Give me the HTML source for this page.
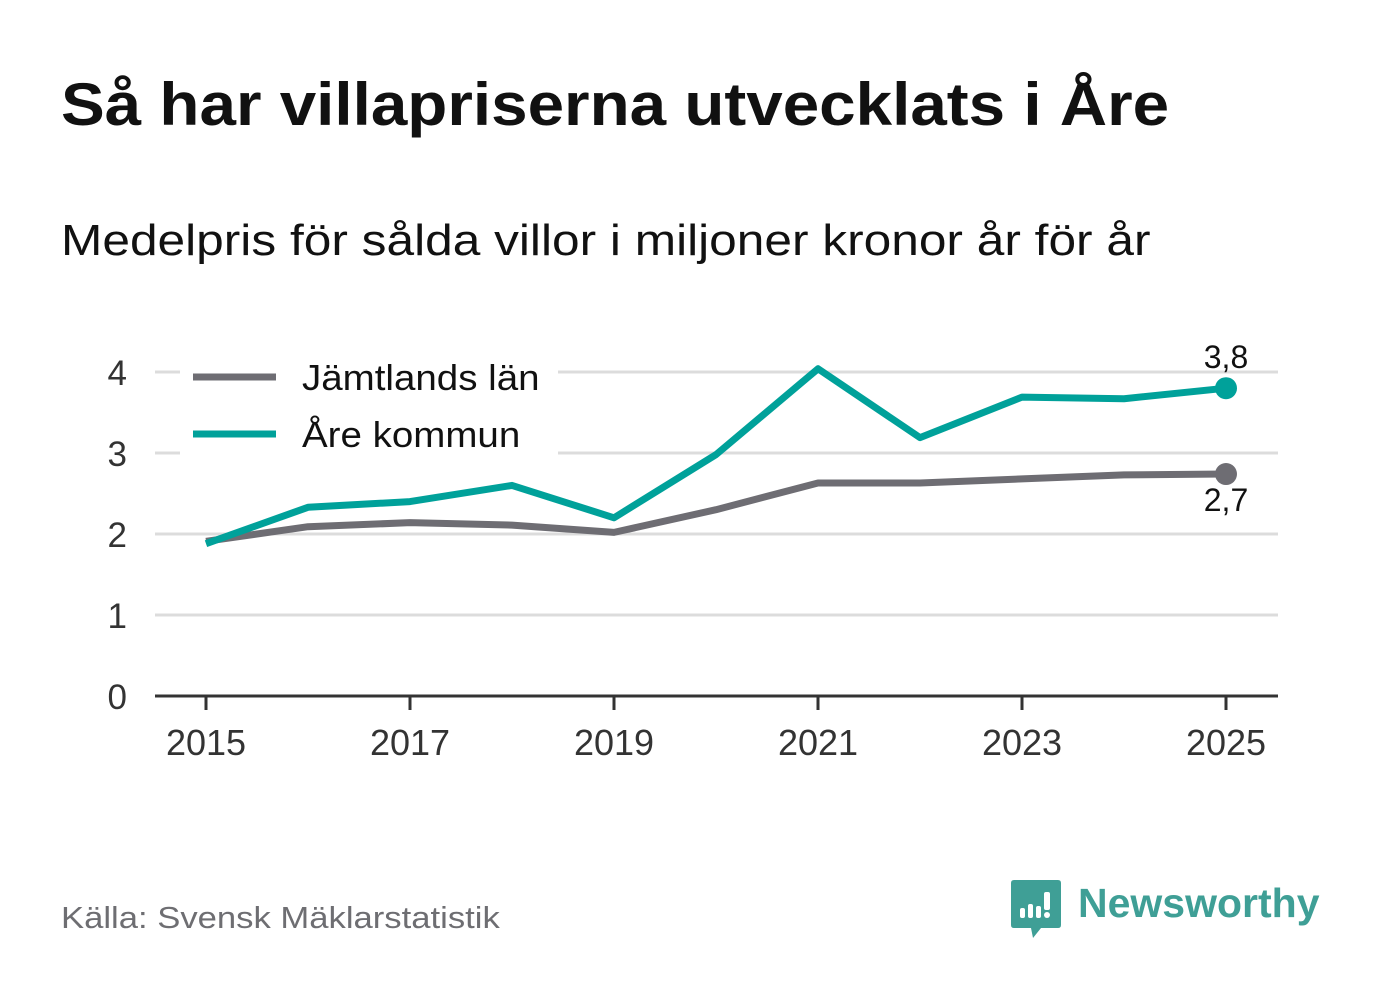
<!DOCTYPE html>
<html><head><meta charset="utf-8">
<style>
body{margin:0;background:#fff;font-family:"Liberation Sans",sans-serif;}
#wrap{position:relative;width:1382px;height:999px;overflow:hidden;}
.t{position:absolute;white-space:nowrap;transform-origin:0 0;}
</style></head>
<body>
<div id="wrap">
<div class="t" style="left:61px;top:70px;font-size:60px;font-weight:bold;color:#111;transform:scaleX(1.093);">Så har villapriserna utvecklats i Åre</div>
<div class="t" style="left:61px;top:216px;font-size:44px;color:#111;transform:scaleX(1.128);">Medelpris för sålda villor i miljoner kronor år för år</div>
<svg id="chart" width="1382" height="820" style="position:absolute;left:0;top:0"></svg>
<div class="t" style="left:61px;top:900px;font-size:31px;color:#6e6e72;transform:scaleX(1.117);">Källa: Svensk Mäklarstatistik</div>
<svg width="52" height="62" style="position:absolute;left:1011px;top:880px">
<path d="M3 0 H47 Q50 0 50 3 V45 Q50 48 47 48 H30 L22 58 L20 48 H3 Q0 48 0 45 V3 Q0 0 3 0Z" fill="#3f9f96"/>
<rect x="9" y="28" width="5" height="10" rx="2" fill="#fff"/><rect x="17" y="24" width="5" height="14" rx="2" fill="#fff"/><rect x="25" y="26" width="5" height="12" rx="2" fill="#fff"/><rect x="33" y="12" width="6" height="18" rx="2" fill="#fff"/><circle cx="36" cy="35" r="3" fill="#fff"/>
</svg>
<div class="t" style="left:1078px;top:880px;font-size:41px;font-weight:bold;color:#3f9f96;">Newsworthy</div>
</div>
<script>
const years=[2015,2016,2017,2018,2019,2020,2021,2022,2023,2024,2025];
const jamtland=[1.91,2.09,2.14,2.11,2.02,2.30,2.63,2.63,2.68,2.73,2.74];
const are=[1.88,2.33,2.40,2.60,2.20,2.98,4.04,3.19,3.69,3.67,3.80];
const yTicks=[0,1,2,3,4];
const xTicks=[2015,2017,2019,2021,2023,2025];
const x=v=>206+(v-2015)*102;
const y=v=>696-v*81;
const svg=document.getElementById('chart');
const NS='http://www.w3.org/2000/svg';
function mk(tag,attrs,parent){const e=document.createElementNS(NS,tag);for(const k in attrs)e.setAttribute(k,attrs[k]);(parent||svg).appendChild(e);return e;}
yTicks.forEach(t=>{
 if(t>0){const g=mk('line',{x1:155,x2:1278,y1:y(t),y2:y(t),stroke:'#dcdcdc','stroke-width':3});
 
 }
 const l=mk('text',{x:127,y:y(t)+13,'text-anchor':'end','font-size':35,fill:'#333','font-family':'Liberation Sans, sans-serif'});
 l.textContent=t;
 
 
});
const ax=mk('line',{x1:155,x2:1278,y1:696,y2:696,stroke:'#333','stroke-width':3});


xTicks.forEach(t=>{
 const tk=mk('line',{x1:x(t),x2:x(t),y1:696,y2:710,stroke:'#333','stroke-width':3});
 
 
 const l=mk('text',{x:x(t),y:755,'text-anchor':'middle','font-size':36,fill:'#333','font-family':'Liberation Sans, sans-serif'});
 l.textContent=t;
 
 
});
const lb=mk('rect',{x:180,y:352,width:378,height:108,fill:'#fff'});


function series(vals,color,name,label,dy){
 const p=mk('polyline',{points:vals.map((v,i)=>x(years[i])+','+y(v)).join(' '),fill:'none',stroke:color,'stroke-width':7,'stroke-linejoin':'round'});
 
 
 const n=vals.length-1;
 const c=mk('circle',{cx:x(years[n]),cy:y(vals[n]),r:11,fill:color});
 
 
 const t=mk('text',{x:x(years[n]),y:y(vals[n])+dy,'text-anchor':'middle','font-size':32,fill:'#111','font-family':'Liberation Sans, sans-serif'});
 t.textContent=label;
 
 
}
series(jamtland,'#6e6d73','jamtland',jamtland[jamtland.length-1].toFixed(1).replace('.',','),37);
series(are,'#00a19a','are',are[are.length-1].toFixed(1).replace('.',','),-20);
[['#6e6d73','Jämtlands län',377,'legend-jamtland'],['#00a19a','Åre kommun',434,'legend-are']].forEach(([c,txt,yy,nm])=>{
 const l=mk('line',{x1:193,x2:276,y1:yy,y2:yy,stroke:c,'stroke-width':7});
 
 
 const t=mk('text',{x:302,y:yy+13,'font-size':36,fill:'#111','font-family':'Liberation Sans, sans-serif',transform:'translate(302,0) scale(1.07,1) translate(-302,0)'});
 t.textContent=txt;
 
 
});
</script>
</body></html>
